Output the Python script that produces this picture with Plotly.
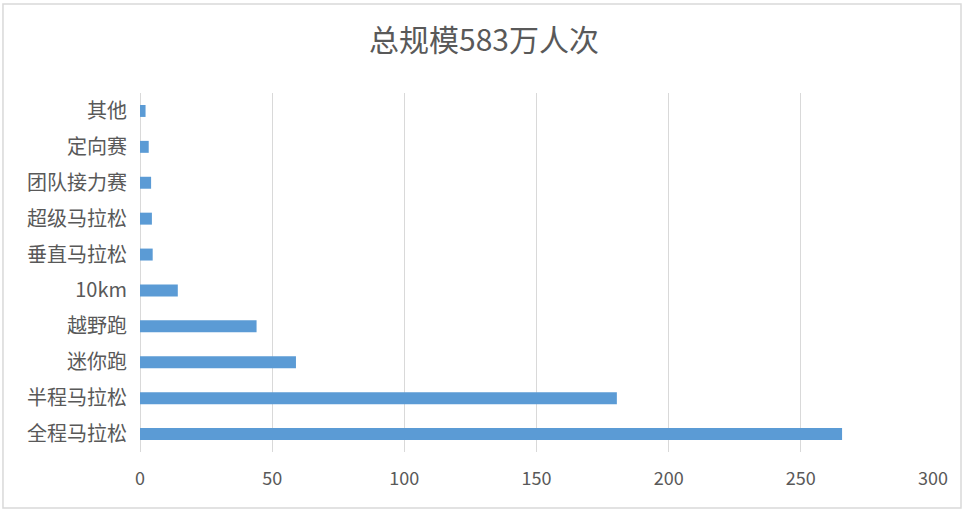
import plotly.graph_objects as go

# 赛事类别（从下到上）及参赛规模（万人次）
categories = ["全程马拉松", "半程马拉松", "迷你跑", "越野跑", "10km",
              "垂直马拉松", "超级马拉松", "团队接力赛", "定向赛", "其他"]
values = [265.6, 180.4, 59.0, 44.1, 14.3, 4.8, 4.5, 4.2, 3.3, 2.1]
x_ticks = [0, 50, 100, 150, 200, 250, 300]

font_cn = "Noto Sans CJK SC"
gray = "#595959"

fig = go.Figure(go.Bar(
    x=values,
    y=categories,
    orientation="h",
    marker_color="#5B9BD5",
    marker_line_width=0,
))

# 外边框
fig.add_shape(
    type="rect", xref="paper", yref="paper",
    x0=-0.1728, x1=1.0353, y0=-0.156, y1=1.248,
    line=dict(color="#D9D9D9", width=1.5),
    fillcolor="rgba(0,0,0,0)", layer="below",
)

fig.update_layout(
    width=968, height=514,
    margin=dict(l=140, r=35, t=93, b=62),
    paper_bgcolor="white",
    plot_bgcolor="white",
    showlegend=False,
    bargap=0.667,
    title=dict(
        text="总规模583万人次",
        x=0.5, xref="container", xanchor="center",
        y=1 - 40 / 514, yref="container", yanchor="middle",
        font=dict(family=font_cn, size=30, color=gray),
    ),
    font=dict(family=font_cn, color=gray),
)

fig.update_xaxes(
    range=[0, 300],
    tickvals=x_ticks,
    showgrid=True, gridcolor="#D9D9D9", gridwidth=1,
    zeroline=True, zerolinecolor="#D9D9D9", zerolinewidth=1,
    showline=False,
    ticklabelstandoff=14,
    tickfont=dict(family=font_cn, size=18, color=gray),
)

fig.update_yaxes(
    categoryorder="array", categoryarray=categories,
    showgrid=False, showline=False, zeroline=False,
    ticklabelstandoff=12,
    tickfont=dict(family=font_cn, size=20, color=gray),
)

# 去掉页面默认边距，让图表贴齐窗口；隐藏工具栏
fig.write_html(
    "out.html",
    config={"displayModeBar": False},
    post_script="document.body.style.margin='0';",
)
